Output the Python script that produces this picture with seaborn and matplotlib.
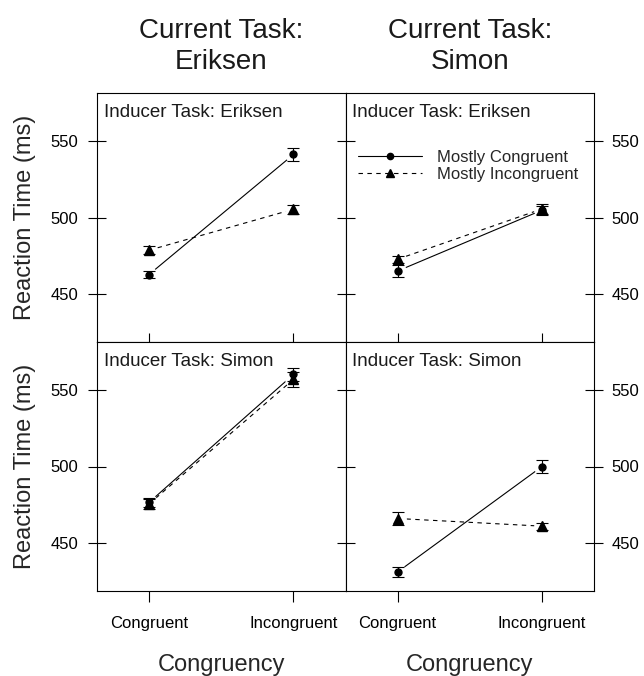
import numpy as np
import pandas as pd
import seaborn as sns
import matplotlib
matplotlib.use("Agg")
import matplotlib.pyplot as plt
from matplotlib.lines import Line2D

# x categories and panel factors
congruency = ["Congruent", "Incongruent"]
current_tasks = ["Eriksen", "Simon"]    # columns
inducer_tasks = ["Eriksen", "Simon"]    # rows
conditions = ["Mostly Congruent", "Mostly Incongruent"]

# mean RT (ms) per panel, keyed "inducer/current", values for Congruent, Incongruent
mc_rt = {"Eriksen/Eriksen": [462.7, 541.2], "Eriksen/Simon": [465.0, 504.8],
         "Simon/Eriksen": [476.5, 560.2], "Simon/Simon": [431.0, 500.0]}
mi_rt = {"Eriksen/Eriksen": [478.6, 505.4], "Eriksen/Simon": [472.7, 505.6],
         "Simon/Eriksen": [475.5, 557.0], "Simon/Simon": [466.0, 461.0]}
# standard errors
mc_se = {"Eriksen/Eriksen": [2.0, 4.2], "Eriksen/Simon": [3.8, 3.0],
         "Simon/Eriksen": [3.0, 4.3], "Simon/Simon": [3.5, 4.1]}
mi_se = {"Eriksen/Eriksen": [2.6, 2.8], "Eriksen/Simon": [2.4, 3.0],
         "Simon/Eriksen": [3.5, 5.0], "Simon/Simon": [4.0, 2.2]}

y_ticks = [450, 500, 550]

# build a long table
rows = []
for key in mc_rt:
    ind, cur = key.split("/")
    for cond, rt, se in [(conditions[0], mc_rt, mc_se), (conditions[1], mi_rt, mi_se)]:
        for i, c in enumerate(congruency):
            rows.append({"inducer": ind, "current": cur, "condition": cond,
                         "congruency": c, "rt": rt[key][i], "se": se[key][i]})
df = pd.DataFrame(rows)

sns.set_theme(style="white")
plt.rcParams["font.family"] = ["Liberation Sans", "DejaVu Sans"]
plt.rcParams["axes.edgecolor"] = "black"
plt.rcParams["axes.linewidth"] = 0.8

fig, axes = plt.subplots(2, 2, figsize=(6.44, 6.76), dpi=100, sharex=True, sharey=True)
fig.subplots_adjust(left=97/644, right=594/644, top=1-93/676, bottom=1-591/676,
                    wspace=0, hspace=0)

markers = {conditions[0]: "o", conditions[1]: "^"}
msizes = {conditions[0]: 5, conditions[1]: 6.5}

for r, ind in enumerate(inducer_tasks):
    for c, cur in enumerate(current_tasks):
        ax = axes[r, c]
        sub = df[(df.inducer == ind) & (df.current == cur)]
        sns.lineplot(data=sub, x="congruency", y="rt", style="condition",
                     style_order=conditions,
                     dashes={conditions[0]: "", conditions[1]: (4, 4)},
                     color="black", linewidth=0.8, legend=False, sort=False,
                     errorbar=None, ax=ax)
        for cond in conditions:
            s = sub[sub.condition == cond]
            # white halo leaves a small gap in the line around each point
            ax.plot(s.congruency, s.rt, ls="none", marker="o", ms=11,
                    mfc="white", mec="white", zorder=2.2)
        for cond in conditions:
            s = sub[sub.condition == cond]
            ax.errorbar(s.congruency, s.rt, yerr=s.se, fmt="none", ecolor="black",
                        elinewidth=0.8, capsize=4.6, capthick=0.8, zorder=3)
            ax.plot(s.congruency, s.rt, ls="none", marker=markers[cond],
                    ms=msizes[cond], color="black", zorder=4)

        ax.text(0.028, 0.902, f"Inducer Task: {ind}", transform=ax.transAxes,
                ha="left", va="baseline", fontsize=13.5, color="#1a1a1a")

        ax.set_xlim(-0.36, 1.36)
        ax.set_ylim(418.6, 581.4)
        ax.set_yticks(y_ticks)
        for sp in ax.spines.values():
            sp.set_color("black")
            sp.set_linewidth(0.8)

        # y ticks: lattice style, crossing the frame
        if c == 0:
            ax.tick_params(axis="y", left=True, right=False, labelleft=True,
                           labelright=False, direction="inout", length=12.5,
                           width=0.8, pad=7.5, labelsize=12, colors="black")
            ax.set_ylabel("Reaction Time (ms)", fontsize=17, labelpad=10)
        else:
            ax.tick_params(axis="y", left=True, right=True, labelleft=False,
                           labelright=True, direction="inout", length=12.5,
                           width=0.8, pad=6.5, labelsize=12, colors="black")
            ax.set_ylabel("")

        # x ticks
        if r == 0:
            ax.tick_params(axis="x", bottom=True, top=False, labelbottom=False,
                           direction="in", length=6.5, width=0.8, colors="black")
            ax.set_xlabel("")
        else:
            ax.tick_params(axis="x", bottom=True, top=False, labelbottom=True,
                           direction="out", length=7.7, width=0.8, pad=10.5,
                           labelsize=12, colors="black")
            ax.set_xlabel("Congruency", fontsize=17, labelpad=16)

# legend in the top right panel
handles = [Line2D([], [], color="black", lw=0.8, marker="o", ms=4.5),
           Line2D([], [], color="black", lw=0.8, ls=(0, (4, 4)), marker="^", ms=5.5)]
axes[0, 1].legend(handles, conditions, loc="upper left", bbox_to_anchor=(0.052, 0.77),
                  frameon=False, fontsize=12, handlelength=3.8, handletextpad=0.9,
                  labelspacing=0.12, borderpad=0, borderaxespad=0)

# column titles
for c, cur in enumerate(current_tasks):
    pos = axes[0, c].get_position()
    fig.text((pos.x0 + pos.x1) / 2, 1 - 75/676, f"Current Task:\n{cur}",
             ha="center", va="bottom", fontsize=20, linespacing=1.25, color="#1a1a1a")

fig.savefig("out.png", dpi=100, facecolor="white")
